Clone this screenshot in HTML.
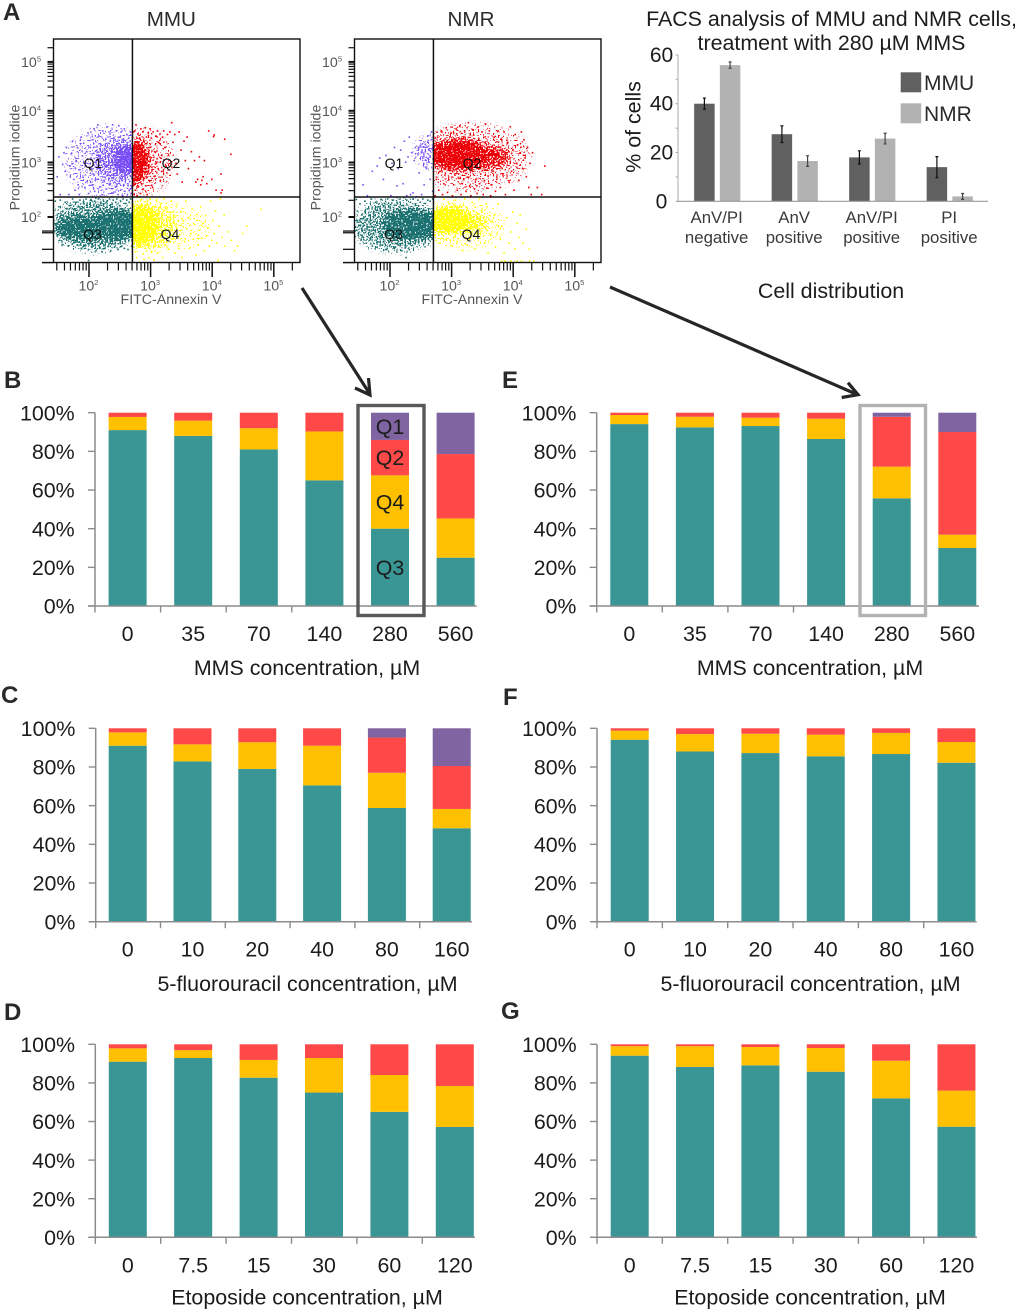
<!DOCTYPE html>
<html lang="en">
<head>
<meta charset="utf-8">
<title>FACS analysis of MMU and NMR cells</title>
<style>
html,body{margin:0;padding:0;background:#fff;}
svg{display:block;font-family:"Liberation Sans",Arial,sans-serif;}
.big{font-size:21.4px;fill:#1c1c1c;}
.letter{font-size:24px;font-weight:bold;fill:#2a2a2a;}
.flow{font-size:14.2px;fill:#555;}
.head{font-size:20.6px;fill:#2a2a2a;}
.cat{font-size:16.8px;fill:#3a3a3a;}
</style>
</head>
<body>
<svg id="fig" width="1020" height="1313" viewBox="0 0 1020 1313" xmlns="http://www.w3.org/2000/svg">
  <rect x="0" y="0" width="1020" height="1313" fill="#fff"/>
  <text class="letter" x="3" y="20">A</text>
  <text class="letter" x="4" y="388">B</text>
  <text class="letter" x="502" y="388">E</text>
  <text class="letter" x="1" y="703">C</text>
  <text class="letter" x="503" y="705">F</text>
  <text class="letter" x="4" y="1020">D</text>
  <text class="letter" x="501" y="1019">G</text>

  <text class="head" x="171.3" y="26" text-anchor="middle">MMU</text>
  <text class="head" x="471" y="26" text-anchor="middle">NMR</text>

  <text class="big" x="831.5" y="26" text-anchor="middle">FACS analysis of MMU and NMR cells,</text>
  <text class="big" x="831.5" y="50" text-anchor="middle">treatment with 280 µM MMS</text>
  <text class="big" transform="translate(640.5,127) rotate(-90)" text-anchor="middle">% of cells</text>
  <text class="big" x="831" y="298" text-anchor="middle">Cell distribution</text>
  <rect x="900.7" y="72.3" width="20.5" height="20" fill="#606060"/>
  <rect x="900.7" y="103.3" width="20.5" height="20" fill="#b2b2b2"/>
  <text x="924" y="90" style="font-size:21px;fill:#2a2a2a">MMU</text>
  <text x="924" y="121" style="font-size:21px;fill:#2a2a2a">NMR</text>

  <g id="scatters"></g>
  <g id="facs"></g>
  <g id="stacks"></g>

  <g stroke="#262626" stroke-width="3.2" fill="none" stroke-linecap="butt">
    <path d="M302 288 L369.5 393.5 M355 388 L370 395 L368.5 378"/>
    <path d="M610 287 L856 394 M841.7 397.5 L858 394.7 L848 382.7"/>
  </g>
</svg>
<script>
/* ---------- Flow cytometry data: log10 Annexin V, log10 propidium iodide pairs ---------- */
const mmuQ1Dots = [1.47,2.75,1.5,3.12,1.52,2.42,1.56,2.98,1.58,3.2,1.6,2.85,1.62,3.3,1.66,2.42,1.68,2.95,1.7,3.18,1.72,3.42,1.74,2.7,1.76,2.5,1.78,3.05,1.8,3.3,1.81,2.6,1.83,2.42,1.84,2.88,1.86,3.5,1.88,3.14,1.89,2.74,1.9,3.38,1.92,2.55,1.93,3.0,1.95,3.22,1.96,2.66,1.97,3.58,1.98,2.44,2.0,2.92,2.01,3.3,2.02,3.1,2.04,2.6,2.05,3.45,2.06,2.8,2.07,3.66,2.08,2.48,2.1,3.02,2.11,3.24,2.12,2.7,2.13,3.74,2.14,2.92,2.15,3.52,2.16,2.56,2.17,3.15,2.18,3.36,2.19,2.84,2.2,2.42,2.21,3.62,2.22,3.04,2.23,2.68,2.24,3.28,2.25,2.94,2.26,3.46,2.27,2.52,2.28,3.7,2.29,3.12,2.3,2.78,2.31,3.38,2.32,2.6,2.33,3.56,2.34,2.9,2.35,3.22,2.36,2.45,2.37,3.74,2.38,2.72,2.39,3.48,2.4,2.98,2.41,3.3,2.42,2.56,2.43,3.62,2.44,2.82,2.45,3.42,2.46,2.42,2.47,3.72,2.48,2.66,2.49,3.5,2.5,2.5,2.51,3.6,2.52,2.76,2.53,2.4,2.54,3.45,2.55,2.6,2.56,3.66,2.57,2.48,2.58,2.7,2.6,3.55,2.61,2.42,2.62,2.58,2.63,3.48,2.64,2.5,2.65,2.66,2.66,3.6,2.67,2.44,2.68,2.56];
const mmuQ2Dots = [2.72,2.42,2.72,2.6,2.73,3.62,2.74,2.5,2.75,3.74,2.76,2.7,2.77,2.4,2.78,3.56,2.79,2.56,2.8,2.78,2.81,3.48,2.82,2.44,2.83,3.66,2.84,2.62,2.85,2.86,2.86,3.6,2.87,2.52,2.88,3.42,2.89,2.72,2.9,3.68,2.91,2.58,2.92,3.5,2.93,2.42,2.94,2.8,2.95,3.58,2.96,3.3,2.97,2.66,2.98,3.66,2.99,3.1,3.0,3.48,3.01,2.88,3.02,2.55,3.03,3.6,3.05,3.22,3.06,2.76,3.07,3.52,3.08,3.0,3.1,3.62,3.11,2.9,3.12,3.4,3.14,3.56,3.15,3.1,3.17,2.85,3.18,3.5,3.2,3.62,3.22,3.3,3.24,2.95,3.26,3.55,3.28,3.15,3.3,3.6,3.33,3.78,3.35,3.4,3.38,3.55,3.4,3.0,3.42,2.8,3.45,3.6,3.48,3.25,3.5,2.65,3.53,3.42,3.55,3.05,3.58,3.5,3.6,2.9,3.65,3.22,3.7,3.05,3.72,2.65,3.75,2.7,3.78,3.12,3.8,2.6,3.82,2.68,3.84,2.75,3.86,3.05,3.9,2.62,3.93,3.62,3.98,2.7,4.01,3.51,4.02,3.54,4.05,2.5,4.13,2.8,4.13,2.45,4.15,2.5,4.19,3.46,4.29,3.17];
const mmuQ3Dots = [1.44,2.3,1.46,1.9,1.47,2.05,1.48,1.7,1.5,2.2,1.51,1.6,1.52,2.32,1.54,1.82,1.55,1.52,1.56,2.12,1.58,1.95,1.6,2.28,1.62,1.62,1.63,2.02,1.65,1.5,1.67,2.22,1.7,2.08,1.72,2.34,1.74,1.56,1.76,2.14,1.78,2.28,1.8,1.52,1.82,2.05,1.84,2.32,1.86,1.46,1.88,2.18,1.9,2.26,1.92,1.5,1.94,2.34,1.96,2.1,1.98,1.44,2.0,2.24,2.02,2.33,2.04,1.5,2.06,2.15,2.08,2.3,2.1,1.42,2.12,2.2,2.14,2.34,2.16,1.48,2.18,2.26,2.2,1.4,2.22,2.32,2.24,1.46,2.26,2.18,2.28,2.3,2.3,1.5,2.32,2.34,2.34,1.42,2.36,2.24,2.38,2.32,2.4,1.48,2.42,2.28,2.44,2.34,2.46,1.44,2.48,2.22,2.5,2.3,2.52,1.5,2.54,2.34,2.56,1.46,2.58,2.26,2.6,2.32,2.62,1.44,2.64,2.28,2.66,2.34,2.68,1.5,1.98,1.25];
const mmuQ4Dots = [2.74,1.4,2.76,1.3,2.78,2.3,2.8,1.22,2.82,1.48,2.84,2.33,2.86,1.36,2.88,1.27,2.9,2.22,2.92,1.42,2.94,2.3,2.96,1.3,2.98,2.34,3.0,1.4,3.02,2.2,3.04,1.26,3.06,1.5,3.08,2.32,3.1,1.38,3.12,2.12,3.14,1.6,3.16,2.26,3.18,1.3,3.2,2.34,3.22,1.52,3.24,1.78,3.26,2.18,3.28,1.44,3.3,1.95,3.32,2.3,3.34,1.62,3.36,2.05,3.38,1.38,3.4,1.85,3.42,2.24,3.44,1.5,3.46,1.7,3.48,2.1,3.5,1.3,3.52,1.95,3.54,1.58,3.56,2.3,3.58,1.8,3.6,2.0,3.62,1.46,3.64,1.72,3.66,2.16,3.68,1.62,3.7,1.88,3.72,1.34,3.74,2.06,3.76,1.52,3.78,1.78,3.8,2.2,3.82,1.64,3.84,1.9,3.86,1.42,3.88,2.04,3.9,1.68,3.92,1.82,3.94,1.5,3.96,2.3,3.98,1.6,4.0,1.95,4.02,1.72,4.04,2.12,4.06,1.55,4.08,1.25,4.1,1.85,4.12,2.34,4.15,1.65,4.18,2.05,4.2,1.5,4.25,1.75,4.3,1.6,4.35,1.42,4.4,1.5,4.48,1.72,4.55,1.85,4.78,2.15];
const nmrQ1Dots = [1.55,2.6,1.62,2.4,1.7,2.85,1.78,2.95,1.82,3.1,1.88,2.7,1.92,3.15,2.0,2.4,2.02,3.0,2.06,3.3,2.1,2.58,2.12,2.9,2.16,3.25,2.2,2.62,2.22,3.42,2.24,3.02,2.26,2.4,2.28,3.12,2.3,3.5,2.32,2.42,2.34,3.2,2.36,2.45,2.38,3.05,2.4,3.3,2.42,2.38,2.44,3.18,2.46,2.82,2.48,3.34,2.5,2.42,2.52,3.1,2.54,2.6,2.56,3.22,2.58,2.9,2.6,3.4,2.62,3.02,2.64,2.7,2.66,3.45,2.68,2.48,2.6,3.52,2.66,3.6,2.68,3.3,2.62,3.25,2.56,3.36,2.5,3.2,2.45,3.28];
const nmrQ2Dots = [2.72,2.4,2.74,2.7,2.76,3.5,2.78,2.5,2.8,2.85,2.82,3.62,2.84,2.42,2.86,2.62,2.88,2.78,2.9,3.68,2.92,2.46,2.94,2.7,2.96,2.9,2.98,3.58,3.0,2.4,3.02,2.6,3.04,2.8,3.06,3.66,3.08,2.5,3.1,2.72,3.12,3.72,3.14,2.42,3.16,2.62,3.18,2.84,3.2,3.6,3.22,2.48,3.24,2.74,3.26,3.78,3.28,2.58,3.3,2.4,3.32,2.86,3.34,3.64,3.36,2.52,3.38,2.7,3.4,2.44,3.42,3.7,3.44,2.62,3.46,2.8,3.48,3.6,3.5,2.42,3.52,2.68,3.54,3.75,3.56,2.54,3.58,2.76,3.6,3.62,3.62,2.4,3.64,2.6,3.66,2.85,3.68,3.5,3.7,2.48,3.72,2.7,3.74,3.62,3.76,2.95,3.78,2.55,3.8,3.45,3.82,2.78,3.84,3.6,3.86,2.42,3.88,3.05,3.9,3.4,3.92,2.65,3.94,3.7,3.96,2.85,3.98,3.25,4.0,2.5,4.02,3.55,4.04,3.0,4.06,3.35,4.08,2.68,4.1,3.2,4.12,3.6,4.14,2.9,4.16,3.45,4.18,3.1,4.2,2.75,4.22,3.3,4.24,2.55,4.26,3.0,4.28,2.42,4.3,3.2,4.38,2.55,4.45,2.42,4.5,2.95];
const nmrQ3Dots = [1.44,2.33,1.45,1.95,1.46,2.12,1.47,1.72,1.5,2.25,1.52,1.62,1.53,2.05,1.55,1.85,1.58,2.3,1.6,1.55,1.62,2.16,1.65,1.78,1.68,2.34,1.7,1.5,1.72,2.08,1.75,2.28,1.78,1.48,1.8,2.2,1.84,2.33,1.86,1.52,1.9,2.26,1.92,1.44,1.95,2.34,1.98,1.5,2.0,2.24,2.04,2.32,2.06,1.46,2.1,2.27,2.12,1.52,2.15,2.34,2.18,1.42,2.2,2.22,2.24,1.48,2.26,2.32,2.3,1.44,2.32,2.28,2.36,2.34,2.4,2.25,2.44,2.32,2.48,2.28,2.52,2.34,2.56,2.26,2.6,2.32,2.64,2.3,2.68,2.34,2.25,1.3];
const nmrQ4Dots = [2.74,1.6,2.8,1.55,2.86,2.34,2.9,1.62,2.95,2.25,3.0,1.5,3.05,2.32,3.08,1.58,3.12,2.2,3.16,1.42,3.2,2.34,3.24,1.52,3.28,1.62,3.32,2.28,3.36,1.45,3.4,1.7,3.44,2.34,3.48,2.1,3.52,1.55,3.55,2.25,3.58,1.38,3.62,1.7,3.65,1.95,3.68,2.05,3.7,1.48,3.74,2.25,3.78,1.62,3.8,1.85,3.84,1.38,3.88,2.0,3.92,1.55,3.95,1.75,3.98,2.1,4.02,1.45,4.05,1.9,4.08,1.65,4.1,2.05,4.15,1.55,4.2,1.8,4.25,1.45,3.8,1.24,3.85,1.24,3.9,1.22,3.95,1.24,4.0,1.22,4.05,1.24,4.12,1.24,4.18,1.22,4.25,1.24,4.32,1.24];
/* density clouds: log x centre, log y centre, log x spread, log y spread, density */
const mmuQ1Clouds = [[2.35,3.0,0.72,0.66,0.22],[2.45,3.02,0.38,0.42,0.4],[2.6,3.05,0.2,0.25,1]];
const mmuQ2Clouds = [[2.85,3.0,0.5,0.6,0.25],[2.72,3.02,0.26,0.4,1]];
const mmuQ3Clouds = [[2.1,1.86,0.72,0.47,0.5],[2.0,1.8,0.55,0.22,1],[2.5,1.85,0.5,0.28,1]];
const mmuQ4Clouds = [[3.2,1.82,0.75,0.42,0.16],[2.95,1.85,0.5,0.46,0.4],[2.78,1.85,0.34,0.38,1]];
const nmrQ1Clouds = [[2.6,3.2,0.18,0.28,0.4]];
const nmrQ2Clouds = [[3.3,3.1,0.95,0.6,0.22],[3.45,3.1,0.5,0.24,0.7],[3.1,3.15,0.48,0.3,1]];
const nmrQ3Clouds = [[2.1,1.85,0.7,0.47,0.5],[2.32,1.85,0.45,0.26,1],[2.6,1.85,0.32,0.28,0.85]];
const nmrQ4Clouds = [[3.2,1.85,0.65,0.42,0.2],[3.3,1.9,0.3,0.2,0.6],[2.95,1.95,0.34,0.26,1]];
const flowTickExponents = ['2','3','4','5'];
const flowLowTicks = [1.75,1.72,1.43,1.2];

/* ---------- FACS grouped bars ---------- */
const facsCategoriesLine1 = ['AnV/PI','AnV','AnV/PI','PI'];
const facsCategoriesLine2 = ['negative','positive','positive','positive'];
const facsMMU = [40,27.5,18,14];
const facsNMR = [55.8,16.5,25.7,2];
const facsMMUErr = [2.3,3.4,2.7,4.3];
const facsNMRErr = [1.3,2.2,2.2,1.2];
const facsTicks = [0,20,40,60];

/* ---------- Stacked percentage bars ---------- */
const percentTicks = [0,20,40,60,80,100];
const bCategories = ['0','35','70','140','280','560'];
const bQ3 = [91,88,81,65,40,25];
const bQ4 = [6.8,7.9,11,25.3,27.6,20.3];
const bQ2 = [2.2,4.1,8,9.7,18.3,33.3];
const bQ1 = [0,0,0,0,14.1,21.4];
const eCategories = ['0','35','70','140','280','560'];
const eQ3 = [94.1,92.4,93.1,86.4,55.7,30];
const eQ4 = [4.7,5.5,4.3,10.5,16.4,6.9];
const eQ2 = [1.2,2.1,2.6,3.1,25.8,53.1];
const eQ1 = [0,0,0,0,2.1,10];
const cCategories = ['0','10','20','40','80','160'];
const cQ3 = [91,82.9,79,70.5,58.8,48.3];
const cQ4 = [6.9,8.8,13.8,20.5,18.2,10];
const cQ2 = [2.1,8.3,7.2,9,18.2,22.2];
const cQ1 = [0,0,0,0,4.8,19.5];
const fCategories = ['0','10','20','40','80','160'];
const fQ3 = [94.1,88,87.2,85.5,86.7,82.2];
const fQ4 = [4.7,9,10,11.2,10.9,10.7];
const fQ2 = [1.2,3,2.8,3.3,2.4,7.1];
const fQ1 = [0,0,0,0,0,0];
const dCategories = ['0','7.5','15','30','60','120'];
const dQ3 = [91,92.9,82.7,75,65,57.2];
const dQ4 = [6.9,4.1,9.2,17.9,19.1,21.2];
const dQ2 = [2.1,3,8.1,7.1,15.9,21.6];
const dQ1 = [0,0,0,0,0,0];
const gCategories = ['0','7.5','15','30','60','120'];
const gQ3 = [94.1,88.3,89.1,85.8,72,57.3];
const gQ4 = [4.9,10.7,9.5,12.3,19.5,18.7];
const gQ2 = [1,1,1.4,1.9,8.5,24];
const gQ1 = [0,0,0,0,0,0];

const NS = 'http://www.w3.org/2000/svg';
function mk(parent, tag, attrs, text){
  const el = document.createElementNS(NS, tag);
  for (const k in attrs) el.setAttribute(k, attrs[k]);
  if (text !== undefined) el.textContent = text;
  parent.appendChild(el);
  return el;
}

/* stipple texture: turns a soft density cloud into speckled events of one colour */
function stippleFilter(root, id, color){
  const f = mk(root, 'filter', {id: id, filterUnits: 'userSpaceOnUse', x: 0, y: 0, width: 700, height: 320, 'color-interpolation-filters': 'sRGB'});
  mk(f, 'feGaussianBlur', {in: 'SourceAlpha', stdDeviation: 3.5, result: 'soft'});
  mk(f, 'feTurbulence', {type: 'fractalNoise', baseFrequency: 0.6, numOctaves: 1, seed: 4, result: 'noise'});
  mk(f, 'feColorMatrix', {in: 'noise', type: 'matrix', values: '0 0 0 0 0  0 0 0 0 0  0 0 0 0 0  3 0 0 0 -1', result: 'grain'});
  mk(f, 'feComposite', {in: 'soft', in2: 'grain', operator: 'arithmetic', k1: 0, k2: 1, k3: 1, k4: -1, result: 'sum'});
  const ct = mk(f, 'feComponentTransfer', {in: 'sum', result: 'mask'});
  mk(ct, 'feFuncA', {type: 'linear', slope: 14, intercept: 0});
  mk(f, 'feFlood', {'flood-color': color, result: 'ink'});
  mk(f, 'feComposite', {in: 'ink', in2: 'mask', operator: 'in'});
}

/* ---------- scatter plots ---------- */
const plotW = 246.5;
function flowX(ox, v){ return ox + 35.5 + (v - 2) * 61.6; }
function flowY(v){ const d = v - 2; return 217 - (55.9 * d - 1.4 * d * d); }
const GATE_X = 2.705, GATE_Y = 2.36;

const scatterRoot = document.getElementById('scatters');
stippleFilter(scatterRoot, 'stipple-q1', '#7a50f5');
stippleFilter(scatterRoot, 'stipple-q2', '#ee0008');
stippleFilter(scatterRoot, 'stipple-q3', '#1b7270');
stippleFilter(scatterRoot, 'stipple-q4', '#ffff00');

function quadrant(root, ox, id, label, filterId, color, clouds, dots, box){
  const clip = mk(root, 'clipPath', {id: id});
  mk(clip, 'rect', {x: box[0], y: box[1], width: box[2], height: box[3]});
  const g = mk(root, 'g', {'clip-path': 'url(#' + id + ')'});
  
  
  const cloudLayer = mk(g, 'g', {filter: 'url(#' + filterId + ')'});
  
  
  clouds.forEach(function(c){
    const cx = flowX(ox, c[0]), cy = flowY(c[1]);
    const e = mk(cloudLayer, 'ellipse', {cx: cx, cy: cy, rx: c[2] * 61.6, ry: c[3] * 53, fill: color, 'fill-opacity': c[4]});
    
    
  });
  for (let i = 0; i < dots.length; i += 2) {
    const r = mk(g, 'rect', {x: flowX(ox, dots[i]).toFixed(1), y: flowY(dots[i + 1]).toFixed(1), width: 1.6, height: 1.6, fill: color});
    
    
  }
}

function scatter(name, ox, q1c, q2c, q3c, q4c, q1d, q2d, q3d, q4d){
  const root = mk(scatterRoot, 'g', {});
  
  
  const L = ox, R = ox + plotW, T = 39, B = 262.5;
  const gx = flowX(ox, GATE_X), gy = flowY(GATE_Y);
  quadrant(root, ox, name + '-q1', name + '-q1', 'stipple-q1', '#7a50f5', q1c, q1d, [L, T, gx - L, gy - T]);
  quadrant(root, ox, name + '-q2', name + '-q2', 'stipple-q2', '#ee0008', q2c, q2d, [gx, T, R - gx, gy - T]);
  quadrant(root, ox, name + '-q3', name + '-q3', 'stipple-q3', '#1b7270', q3c, q3d, [L, gy, gx - L, B - gy]);
  quadrant(root, ox, name + '-q4', name + '-q4', 'stipple-q4', '#ffff00', q4c, q4d, [gx, gy, R - gx, B - gy]);

  const frame = mk(root, 'rect', {x: L, y: T, width: plotW, height: B - T, fill: 'none', stroke: '#111', 'stroke-width': 1.4});
  
  
  const v = mk(root, 'line', {x1: gx, x2: gx, y1: T, y2: B, stroke: '#111', 'stroke-width': 1.5});
  
  
  const h = mk(root, 'line', {x1: L, x2: R, y1: gy, y2: gy, stroke: '#111', 'stroke-width': 1.5});
  
  

  for (let b = 1; b <= 5; b++) for (let m = 1; m <= 9; m++) {
    const val = b + Math.log10(m);
    if (val >= 1.46 && val <= 5.42) {
      const x = flowX(ox, val);
      const major = m === 1;
      const t = mk(root, 'line', {x1: x, x2: x, y1: B, y2: major ? 277 : 270.5, stroke: '#111', 'stroke-width': major ? 1.5 : 1.2});
      
      
    }
    if (b >= 2) {
      const yy = flowY(val);
      if (yy >= 43) {
        const major = m === 1;
        const t = mk(root, 'line', {x1: L - 6, x2: L, y1: yy, y2: yy, stroke: '#111', 'stroke-width': major ? 2 : 1.2});
        
        
      }
    }
  }
  flowLowTicks.forEach(function(val){
    const yy = flowY(val);
    const t = mk(root, 'line', {x1: L - 11.5, x2: L, y1: yy, y2: yy, stroke: '#111', 'stroke-width': 1.3});
    
    
  });
  const yBase = mk(root, 'line', {x1: L - 11.5, x2: L, y1: B, y2: B, stroke: '#111', 'stroke-width': 1.3});
  
  

  flowTickExponents.forEach(function(ex){
    const val = Number(ex);
    const tx = mk(root, 'text', {x: flowX(ox, val) - 0.5, y: 290.5, 'text-anchor': 'middle', 'class': 'flow'}, '10');
    
    
    const sx = mk(tx, 'tspan', {dy: -5.5, style: 'font-size:7.5px'}, ex);
    
    
    const ty = mk(root, 'text', {x: L - 12.5, y: flowY(val) + 5, 'text-anchor': 'end', 'class': 'flow'}, '10');
    
    
    const sy = mk(ty, 'tspan', {dy: -5.5, style: 'font-size:7.5px'}, ex);
    
    
  });

  const xl = mk(root, 'text', {x: ox + 117.5, y: 304, 'text-anchor': 'middle', 'class': 'flow'}, 'FITC-Annexin V');
  
  
  const yl = mk(root, 'text', {transform: 'translate(' + (ox - 34) + ',157.5) rotate(-90)', 'text-anchor': 'middle', 'class': 'flow'}, 'Propidium iodide');
  
  

  [['Q1', 39.5, 168], ['Q2', 117.5, 168], ['Q3', 39, 239], ['Q4', 116.5, 239]].forEach(function(q){
    const t = mk(root, 'text', {x: ox + q[1], y: q[2], 'text-anchor': 'middle', style: 'font-size:14px;fill:#111'}, q[0]);
    
    
  });
}
scatter('mmu', 53.5, mmuQ1Clouds, mmuQ2Clouds, mmuQ3Clouds, mmuQ4Clouds, mmuQ1Dots, mmuQ2Dots, mmuQ3Dots, mmuQ4Dots);
scatter('nmr', 354.5, nmrQ1Clouds, nmrQ2Clouds, nmrQ3Clouds, nmrQ4Clouds, nmrQ1Dots, nmrQ2Dots, nmrQ3Dots, nmrQ4Dots);

/* ---------- FACS bars ---------- */
(function(){
  const root = document.getElementById('facs');
  const x0 = 678, x1 = 988, pitch = 77.5;
  function yS(v){ return 201.3 - v * 2.44; }
  function drawBar(cx, value, err, fill, errColor, name){
    const r = mk(root, 'rect', {x: cx, y: yS(value), width: 20.5, height: yS(0) - yS(value), fill: fill});
    
    
    const mid = cx + 10.25;
    const p = mk(root, 'path', {d: 'M' + mid + ' ' + yS(value + err) + 'V' + yS(value - err) + 'M' + (mid - 1.5) + ' ' + yS(value + err) + 'h3M' + (mid - 1.5) + ' ' + yS(value - err) + 'h3', stroke: errColor, 'stroke-width': 1.2, fill: 'none'});
    
    
  }
  facsMMU.forEach(function(v, i){
    const c = x0 + (i + 0.5) * pitch + 0.4;
    drawBar(c - 23, v, facsMMUErr[i], '#606060', '#111', 'bar-mmu');
    drawBar(c + 2.7, facsNMR[i], facsNMRErr[i], '#b2b2b2', '#444', 'bar-nmr');
    const a = mk(root, 'text', {x: c - 0.5, y: 223, 'text-anchor': 'middle', 'class': 'cat'}, facsCategoriesLine1[i]);
    
    
    const b = mk(root, 'text', {x: c - 0.5, y: 243, 'text-anchor': 'middle', 'class': 'cat'}, facsCategoriesLine2[i]);
    
    
  });
  const ya = mk(root, 'line', {x1: x0, x2: x0, y1: yS(60), y2: yS(0), stroke: '#aaa', 'stroke-width': 1});
  
  
  const xa = mk(root, 'line', {x1: x0 - 2, x2: x1, y1: yS(0), y2: yS(0), stroke: '#9a9a9a', 'stroke-width': 1.2});
  
  
  for (let v = 10; v <= 60; v += 10) {
    const t = mk(root, 'line', {x1: x0 - 2.5, x2: x0, y1: yS(v), y2: yS(v), stroke: '#aaa', 'stroke-width': 1});
    
    
  }
  facsTicks.forEach(function(v){
    const t = mk(root, 'text', {x: 661.5, y: yS(v) + 7, 'text-anchor': 'middle', style: 'font-size:21px;fill:#1c1c1c'}, String(v));
    
    
  });
})();

/* ---------- stacked panels ---------- */
const stackColors = {q3: '#3a9595', q4: '#ffc000', q2: '#ff4848', q1: '#8064a2'};
function stackPanel(name, geo, cats, q3, q4, q2, q1, title, titleX, titleY){
  const root = mk(document.getElementById('stacks'), 'g', {});
  
  
  function yS(v){ return geo.bottom - v * (geo.bottom - geo.top) / 100; }
  function xC(i){ return geo.first + i * geo.pitch; }
  cats.forEach(function(cat, i){
    const parts = [[q3[i], stackColors.q3], [q4[i], stackColors.q4], [q2[i], stackColors.q2], [q1[i], stackColors.q1]];
    let acc = 0;
    parts.forEach(function(p){
      if (p[0] > 0) {
        const s = mk(root, 'rect', {x: xC(i) - 19, y: yS(acc + p[0]), width: 38, height: yS(acc) - yS(acc + p[0]), fill: p[1]});
        
        
      }
      acc += p[0];
    });
    const l = mk(root, 'text', {x: xC(i), y: geo.labelY, 'text-anchor': 'middle', 'class': 'big'}, cat);
    
    
    const tx = geo.axis + i * geo.pitch;
    const t = mk(root, 'line', {x1: tx, x2: tx, y1: geo.bottom, y2: geo.bottom + 6.5, stroke: '#8c8c8c', 'stroke-width': 1.4});
    
    
  });
  const ya = mk(root, 'line', {x1: geo.axis, x2: geo.axis, y1: geo.top, y2: geo.bottom, stroke: '#8c8c8c', 'stroke-width': 1.5});
  
  
  const xa = mk(root, 'line', {x1: geo.axis - 7, x2: geo.end, y1: geo.bottom, y2: geo.bottom, stroke: '#8c8c8c', 'stroke-width': 1.5});
  
  
  percentTicks.forEach(function(v){
    const t = mk(root, 'line', {x1: geo.axis - 7, x2: geo.axis, y1: yS(v), y2: yS(v), stroke: '#8c8c8c', 'stroke-width': 1.4});
    
    
    const l = mk(root, 'text', {x: geo.axis - 20.3, y: yS(v) + 7.7, 'text-anchor': 'end', 'class': 'big'}, v + '%');
    
    
  });
  const tt = mk(root, 'text', {x: titleX, y: titleY, 'text-anchor': 'middle', 'class': 'big'}, title);
  
  
  return {xC: xC, yS: yS, root: root};
}
const panelB = stackPanel('b', {axis: 95, first: 127.6, pitch: 65.6, end: 476.7, top: 412.7, bottom: 606, labelY: 641}, bCategories, bQ3, bQ4, bQ2, bQ1, 'MMS concentration, µM', 307, 675);
const panelE = stackPanel('e', {axis: 596.7, first: 629.3, pitch: 65.6, end: 979, top: 412.7, bottom: 606, labelY: 641}, eCategories, eQ3, eQ4, eQ2, eQ1, 'MMS concentration, µM', 810, 675);
stackPanel('c', {axis: 95.7, first: 127.7, pitch: 64.8, end: 472, top: 728.3, bottom: 921.7, labelY: 956.5}, cCategories, cQ3, cQ4, cQ2, cQ1, '5-fluorouracil concentration, µM', 307.5, 991);
stackPanel('f', {axis: 597, first: 629.7, pitch: 65.35, end: 976.7, top: 728.3, bottom: 921.7, labelY: 956.5}, fCategories, fQ3, fQ4, fQ2, fQ1, '5-fluorouracil concentration, µM', 810.5, 991);
stackPanel('d', {axis: 95.3, first: 127.8, pitch: 65.4, end: 475, top: 1044.3, bottom: 1237.3, labelY: 1272.5}, dCategories, dQ3, dQ4, dQ2, dQ1, 'Etoposide concentration, µM', 307, 1304.5);
stackPanel('g', {axis: 597, first: 629.7, pitch: 65.35, end: 977, top: 1044.3, bottom: 1237.3, labelY: 1272.5}, gCategories, gQ3, gQ4, gQ2, gQ1, 'Etoposide concentration, µM', 810, 1304.5);

/* highlight boxes around the 280 µM bars */
const boxB = mk(panelB.root, 'rect', {x: 358, y: 405.5, width: 66, height: 210, fill: 'none', stroke: '#595959', 'stroke-width': 3.4});


const boxE = mk(panelE.root, 'rect', {x: 860, y: 405.5, width: 65.5, height: 210, fill: 'none', stroke: '#b2b2b2', 'stroke-width': 3.4});


[['Q1', 14.1 / 2 + 85.9], ['Q2', 76.8], ['Q4', 53.8], ['Q3', 20]].forEach(function(q){
  const t = mk(panelB.root, 'text', {x: panelB.xC(4), y: panelB.yS(q[1]) + 7.5, 'text-anchor': 'middle', style: 'font-size:21.4px;fill:#1c1c1c'}, q[0]);
  
  
});
</script>
</body>
</html>
